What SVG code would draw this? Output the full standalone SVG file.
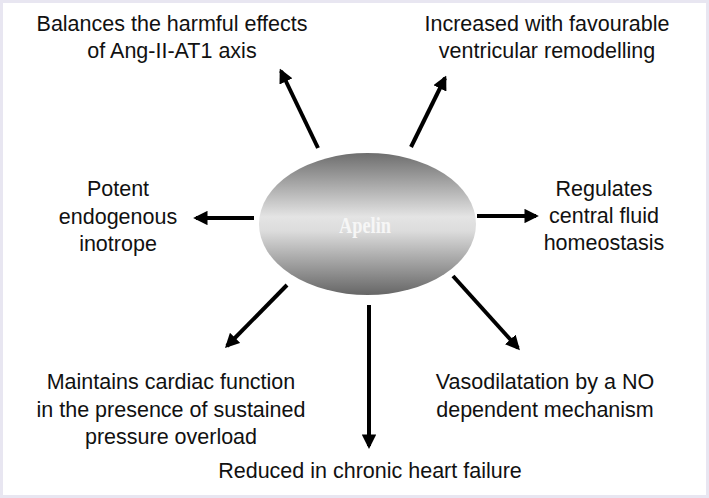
<svg xmlns="http://www.w3.org/2000/svg" width="709" height="498" viewBox="0 0 709 498">
<defs>
<style>
.t{font-family:"Liberation Sans",Arial,sans-serif;font-size:21.5px;fill:#111;text-anchor:middle}
.c{stroke:#000;stroke-width:4;fill:none;marker-end:url(#ah)}
</style>
<marker id="ah" viewBox="0 0 10 10" refX="8" refY="5" markerWidth="3.6" markerHeight="3.6" orient="auto" markerUnits="strokeWidth">
<path d="M0,0 L10,5 L0,10 z" fill="#000"/>
</marker>
<linearGradient id="g" x1="0" y1="0" x2="0" y2="1">
<stop offset="0" stop-color="#6e6e6e"/>
<stop offset="0.45" stop-color="#e4e4e4"/>
<stop offset="0.55" stop-color="#dcdcdc"/>
<stop offset="1" stop-color="#666"/>
</linearGradient>
</defs>
<rect x="0" y="0" width="709" height="498" fill="#e8e6f1"/>
<rect x="3" y="3" width="703" height="492" fill="#fff"/>
<g id="connectors">
<line class="c" x1="318" y1="148" x2="281" y2="71"/>
<line class="c" x1="411" y1="147" x2="445" y2="78"/>
<line class="c" x1="254" y1="218" x2="196" y2="218"/>
<line class="c" x1="477" y1="216" x2="536" y2="216"/>
<line class="c" x1="287" y1="285" x2="227" y2="346"/>
<line class="c" x1="453" y1="276" x2="518" y2="348"/>
<line class="c" x1="369" y1="305" x2="369" y2="446"/>
</g>
<g id="apelin">
<ellipse cx="367.5" cy="224" rx="108.5" ry="71" fill="url(#g)"/>
<text x="365" y="233" textLength="52" lengthAdjust="spacingAndGlyphs" style="font-family:'Liberation Serif','Times New Roman',serif;font-size:23px;font-weight:bold;fill:#f6f6f6;text-anchor:middle">Apelin</text>
</g>
<g id="n1"><text class="t" x="172" y="31">Balances the harmful effects</text><text class="t" x="172" y="58">of Ang-II-AT1 axis</text></g>
<g id="n2"><text class="t" x="547" y="31">Increased with favourable</text><text class="t" x="547" y="58">ventricular remodelling</text></g>
<g id="n3"><text class="t" x="118" y="196">Potent</text><text class="t" x="118" y="224">endogenous</text><text class="t" x="118" y="251">inotrope</text></g>
<g id="n4"><text class="t" x="604" y="196">Regulates</text><text class="t" x="604" y="223">central fluid</text><text class="t" x="604" y="250">homeostasis</text></g>
<g id="n5"><text class="t" x="171" y="389">Maintains cardiac function</text><text class="t" x="171" y="417">in the presence of sustained</text><text class="t" x="171" y="444">pressure overload</text></g>
<g id="n6"><text class="t" x="545" y="389">Vasodilatation by a NO</text><text class="t" x="545" y="417">dependent mechanism</text></g>
<g id="n7"><text class="t" x="370" y="478">Reduced in chronic heart failure</text></g>
</svg>
